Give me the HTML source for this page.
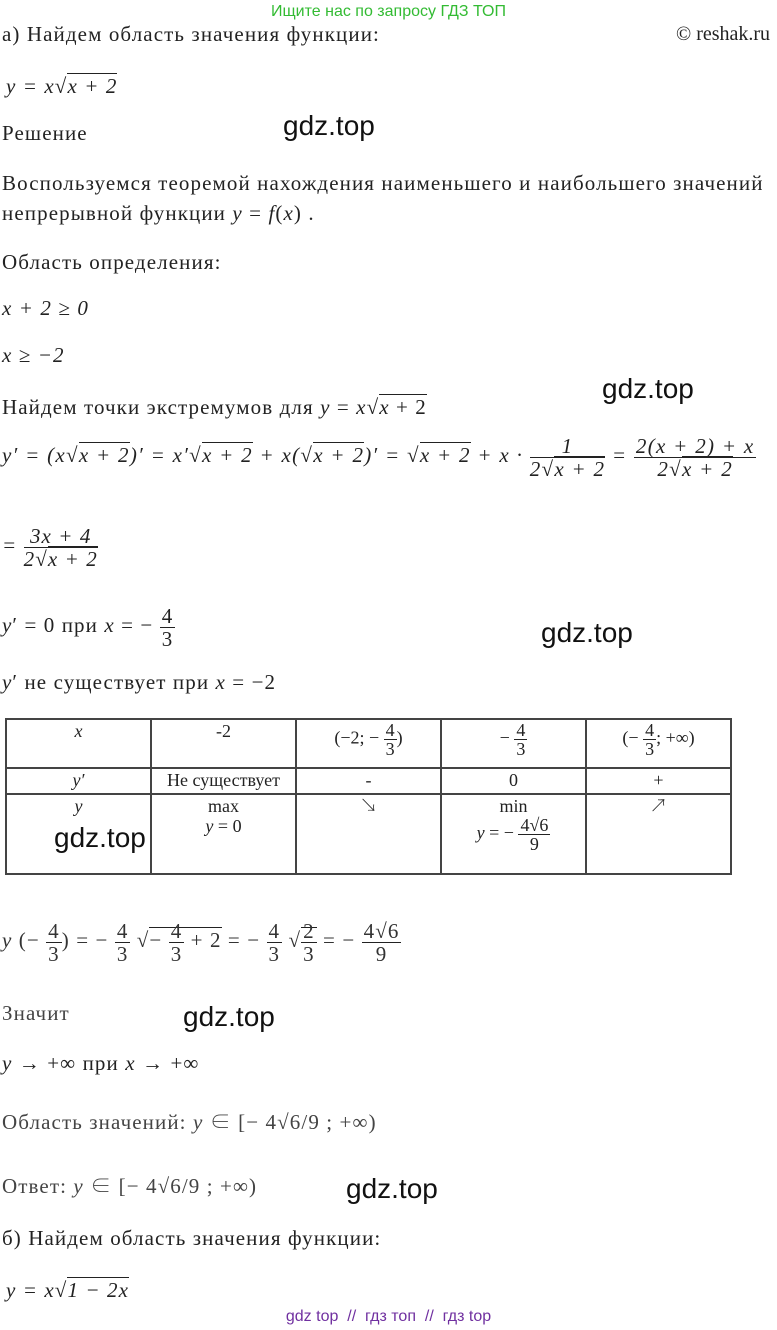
<!DOCTYPE html>
<html><head><meta charset="utf-8">
<style>
body{margin:0;width:777px;height:1330px;background:#fff;position:relative;overflow:hidden;font-family:"Liberation Serif","Noto Serif CJK SC",serif;color:#222;}
.t{position:absolute;font-size:21px;letter-spacing:1.1px;white-space:nowrap;line-height:24px;}
.m{font-style:italic;}
.g{position:absolute;font-family:"Liberation Sans",sans-serif;font-size:28px;color:#111;white-space:nowrap;letter-spacing:0;}
.fr{display:inline-block;vertical-align:middle;text-align:center;line-height:22px;}
.fr>span{display:block;}
.fr>.n{border-bottom:1px solid #222;padding:0 2px;}
.sq{border-top:1px solid #222;}
table{position:absolute;left:5px;top:718px;border-collapse:collapse;font-size:18px;}
td{border:2px solid #444;width:143px;text-align:center;vertical-align:top;padding:1px 0;line-height:20px;}
td .fr{line-height:18px;font-size:18px}
</style></head><body>
<div class="t" style="left:0;width:777px;text-align:center;top:0;color:#33bb33;font-family:'Liberation Sans',sans-serif;font-size:16px;letter-spacing:0">Ищите нас по запросу ГДЗ ТОП</div>
<div class="t" style="left:2px;top:22px">а) Найдем область значения функции:</div>
<div class="t" style="left:676px;top:22px;letter-spacing:0;font-size:20px">© reshak.ru</div>
<div class="t m" style="left:6px;top:74px">y = x√<span class="sq">x + 2</span></div>
<div class="t" style="left:2px;top:121px">Решение</div>
<div class="g" style="left:283px;top:110px">gdz.top</div>
<div class="t" style="left:2px;top:171px">Воспользуемся теоремой нахождения наименьшего и наибольшего значений</div>
<div class="t" style="left:2px;top:201px">непрерывной функции <i>y</i> = <i>f</i>(<i>x</i>) .</div>
<div class="t" style="left:2px;top:250px">Область определения:</div>
<div class="t m" style="left:2px;top:296px">x + 2 ≥ 0</div>
<div class="t m" style="left:2px;top:343px">x ≥ −2</div>
<div class="t" style="left:2px;top:395px">Найдем точки экстремумов для <i>y</i> = <i>x</i>√<span class="sq"><i>x</i> + 2</span></div>
<div class="g" style="left:602px;top:373px">gdz.top</div>
<div class="t m" style="left:2px;top:430px;line-height:50px;letter-spacing:1.3px">y′ = (x√<span class="sq">x + 2</span>)′ = x′√<span class="sq">x + 2</span> + x(√<span class="sq">x + 2</span>)′ = √<span class="sq">x + 2</span> + x · <span class="fr"><span class="n">1</span><span>2√<span class="sq">x + 2</span></span></span> = <span class="fr"><span class="n">2(x + 2) + x</span><span>2√<span class="sq">x + 2</span></span></span></div>
<div class="t m" style="left:2px;top:520px;line-height:50px">= <span class="fr"><span class="n">3x + 4</span><span>2√<span class="sq">x + 2</span></span></span></div>
<div class="t" style="left:2px;top:600px;line-height:50px"><i>y</i>′ = 0 при <i>x</i> = − <span class="fr"><span class="n">4</span><span>3</span></span></div>
<div class="g" style="left:541px;top:617px">gdz.top</div>
<div class="t" style="left:2px;top:670px"><i>y</i>′ не существует при <i>x</i> = −2</div>
<table>
<tr style="height:49px"><td><i>x</i></td><td>-2</td><td>(−2; − <span class="fr"><span class="n">4</span><span>3</span></span>)</td><td>− <span class="fr"><span class="n">4</span><span>3</span></span></td><td>(− <span class="fr"><span class="n">4</span><span>3</span></span>; +∞)</td></tr>
<tr style="height:26px"><td><i>y′</i></td><td>Не существует</td><td>-</td><td>0</td><td>+</td></tr>
<tr style="height:80px"><td><i>y</i></td><td>max<br><i>y</i> = 0</td><td>↘</td><td>min<br><i>y</i> = − <span class="fr"><span class="n">4√6</span><span>9</span></span></td><td>↗</td></tr>
</table>
<div class="g" style="left:54px;top:822px">gdz.top</div>
<div class="t" style="left:2px;top:915px;line-height:50px;color:#333"><i>y</i> (− <span class="fr"><span class="n">4</span><span>3</span></span>) = − <span class="fr"><span class="n">4</span><span>3</span></span> √<span class="sq">− <span class="fr"><span class="n">4</span><span>3</span></span> + 2</span> = − <span class="fr"><span class="n">4</span><span>3</span></span> √<span class="sq"><span class="fr"><span class="n">2</span><span>3</span></span></span> = − <span class="fr"><span class="n">4√6</span><span>9</span></span></div>
<div class="t" style="left:2px;top:1001px;color:#444">Значит</div>
<div class="g" style="left:183px;top:1001px">gdz.top</div>
<div class="t" style="left:2px;top:1051px"><i>y</i> → +∞ при <i>x</i> → +∞</div>
<div class="t" style="left:2px;top:1110px;color:#444">Область значений: <i>y</i> ∈ [− 4√6/9 ; +∞)</div>
<div class="t" style="left:2px;top:1174px;color:#444">Ответ: <i>y</i> ∈ [− 4√6/9 ; +∞)</div>
<div class="g" style="left:346px;top:1173px">gdz.top</div>
<div class="t" style="left:2px;top:1226px">б) Найдем область значения функции:</div>
<div class="t m" style="left:6px;top:1278px">y = x√<span class="sq">1 − 2x</span></div>
<div class="t" style="left:0;width:777px;text-align:center;top:1305px;color:#7030a0;font-family:'Liberation Sans',sans-serif;font-size:16px;letter-spacing:0">gdz top &nbsp;// &nbsp;гдз топ &nbsp;// &nbsp;гдз top</div>
</body></html>
